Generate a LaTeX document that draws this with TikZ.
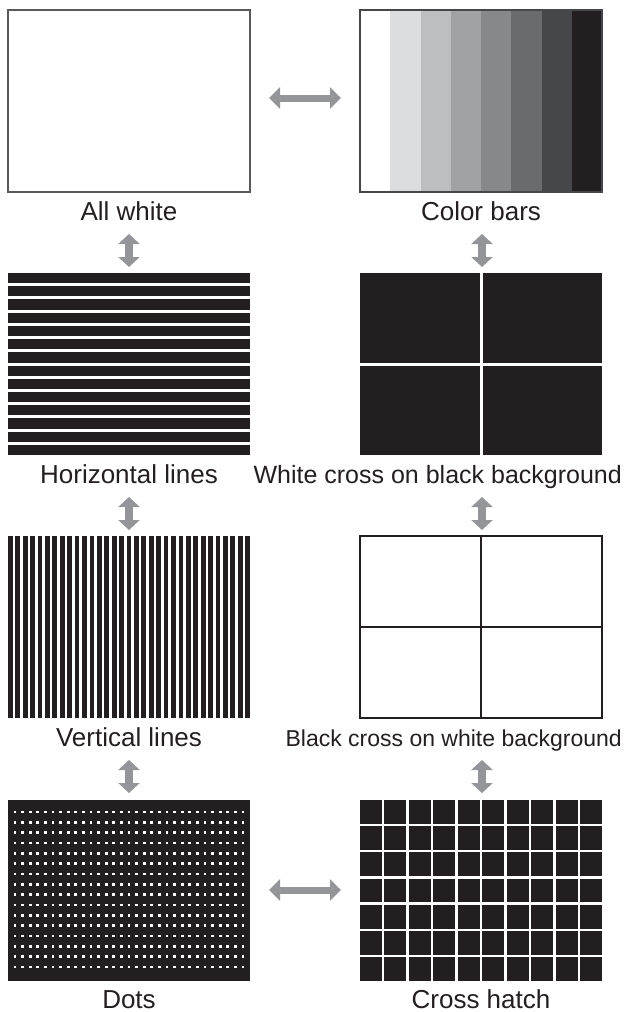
\documentclass[tikz,border=0pt]{standalone}
\usepackage{fontspec}
\setmainfont{Liberation Sans}
\usetikzlibrary{arrows.meta}
\definecolor{ink}{HTML}{231F20}
\definecolor{arr}{HTML}{939598}
\definecolor{bord}{HTML}{58595B}
\definecolor{cbA}{HTML}{DCDDDF}
\definecolor{cbB}{HTML}{BCBEC0}
\definecolor{cbC}{HTML}{A0A2A5}
\definecolor{cbD}{HTML}{86888B}
\definecolor{cbE}{HTML}{6A6B6F}
\definecolor{cbF}{HTML}{46474A}
\begin{document}
\begin{tikzpicture}[x=1pt,y=-1pt,
  panel/.style={minimum width=242pt,minimum height=182pt,inner sep=0pt,outer sep=0pt},
  lbl/.style={inner sep=0pt,anchor=base,text=ink,font=\fontsize{26}{30}\selectfont},
  hdbl/.style={draw=arr,line width=7pt,{Triangle[length=11pt,width=21pt]}-{Triangle[length=11pt,width=21pt]}},
  vdbl/.style={draw=arr,line width=8pt,{Triangle[length=10pt,width=21pt]}-{Triangle[length=10pt,width=21pt]}}]
\useasboundingbox (0,0) rectangle (624,1012);

% All white
\node[panel,draw=bord,line width=1.2pt,fill=white] (aw) at (129,101) {};
\node[lbl] (awl) at (129,220) {All white};

% Color bars
\foreach \c [count=\i from 0] in {white,cbA,cbB,cbC,cbD,cbE,cbF,ink}
  \fill[\c] ({360+\i*30.25},10) rectangle ++(30.25,182);
\node[panel,draw=cbF,line width=1.2pt] (cb) at (481,101) {};
\node[lbl] (cbl) at (481,220) {Color bars};

% Horizontal lines
\foreach \k in {0,...,13}
  \fill[ink] (8,{273+\k*13.214}) rectangle ++(242,10.214);
\node[panel] (hl) at (129,364) {};
\node[lbl] (hll) at (129,483) {Horizontal lines};

% White cross on black background
\fill[ink] (360,273) rectangle (602,455);
\fill[white] (479.5,273) rectangle (482.5,455);
\fill[white] (360,362.5) rectangle (602,365.5);
\node[panel] (wc) at (481,364) {};
\node[lbl,anchor=base east,font=\fontsize{25}{30}\selectfont] (wcl) at (622,483) {White cross on black background};

% Vertical lines
\foreach \k in {0,...,32}
  \fill[ink] ({8+\k*7.415},536) rectangle ++(4.715,182);
\node[panel] (vl) at (129,627) {};
\node[lbl] (vll) at (129,746) {Vertical lines};

% Black cross on white background
\node[panel,draw=ink,line width=1.2pt,fill=white] (bc) at (481,627) {};
\draw[ink,line width=1.2pt] (bc.north) -- (bc.south);
\draw[ink,line width=1.2pt] (bc.west) -- (bc.east);
\node[lbl,anchor=base east,font=\fontsize{23}{28}\selectfont] (bcl) at (622,746) {Black cross on white background};

% Dots
\fill[ink] (8,800) rectangle (250,981);
\foreach \r in {0,...,15}
  \foreach \c in {0,...,30}
    \fill[white] ({15+\c*7.6-1.35},{812+\r*10.33-1.35}) rectangle ++(2.7,2.7);
\node[panel] (dt) at (129,890.5) {};
\node[lbl] (dtl) at (129,1008) {Dots};

% Cross hatch
\foreach \c in {0,...,9}
  \foreach \r in {0,...,6}
    \fill[ink] ({360+\c*24.45},{800+\r*26.2}) rectangle ++(21.95,23.7);
\node[panel] (ch) at (481,890.5) {};
\node[lbl] (chl) at (481,1008) {Cross hatch};

% Arrows
\coordinate (h1a) at (269,98);  \coordinate (h1b) at (341,98);
\coordinate (h2a) at (269,890); \coordinate (h2b) at (341,890);
\draw[hdbl] (h1a) -- (h1b);
\draw[hdbl] (h2a) -- (h2b);

\coordinate (l1a) at (129,234); \coordinate (l1b) at (129,267);
\coordinate (l2a) at (129,497); \coordinate (l2b) at (129,530);
\coordinate (l3a) at (129,760); \coordinate (l3b) at (129,793);
\coordinate (r1a) at (482,234); \coordinate (r1b) at (482,267);
\coordinate (r2a) at (482,497); \coordinate (r2b) at (482,530);
\coordinate (r3a) at (482,760); \coordinate (r3b) at (482,793);
\foreach \p in {l1,l2,l3,r1,r2,r3}
  \draw[vdbl] (\p a) -- (\p b);
\end{tikzpicture}
\end{document}
